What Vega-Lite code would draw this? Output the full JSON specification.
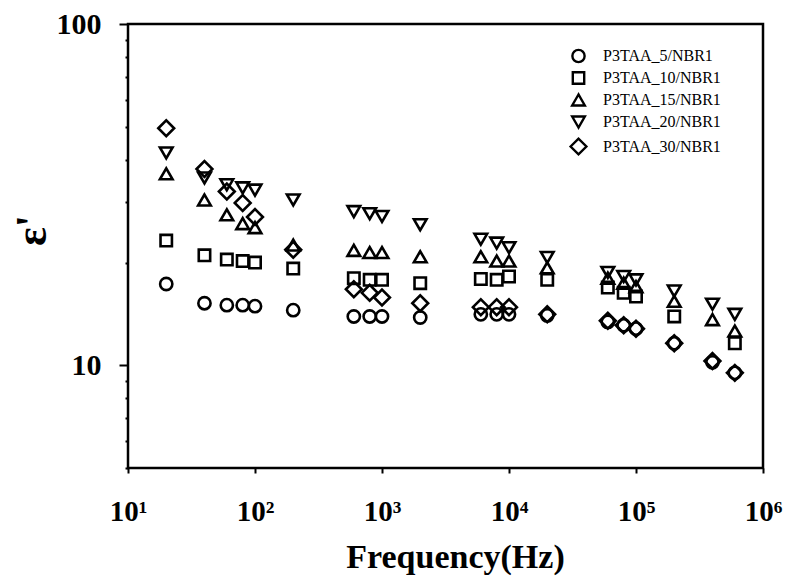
{
  "$schema": "https://vega.github.io/schema/vega-lite/v6.json",
  "width": 635,
  "height": 444,
  "autosize": {"type": "none"},
  "padding": {"left": 128, "top": 24, "right": 27, "bottom": 114},
  "background": "white",
  "config": {
    "view": {"stroke": "black", "strokeWidth": 2.5},
    "font": "Liberation Serif",
    "legend": {
      "labelFont": "Liberation Serif", "labelFontSize": 16, "labelColor": "black",
      "symbolStrokeColor": "black", "symbolFillColor": "transparent", "symbolStrokeWidth": 2.4,
      "rowPadding": 0, "labelOffset": 15
    }
  },
  "data": {
    "values": [
      {"f": 20, "e": 17.3, "s": "P3TAA_5/NBR1"},
      {"f": 40, "e": 15.2, "s": "P3TAA_5/NBR1"},
      {"f": 60, "e": 15.0, "s": "P3TAA_5/NBR1"},
      {"f": 80, "e": 15.0, "s": "P3TAA_5/NBR1"},
      {"f": 100, "e": 14.9, "s": "P3TAA_5/NBR1"},
      {"f": 200, "e": 14.5, "s": "P3TAA_5/NBR1"},
      {"f": 600, "e": 13.9, "s": "P3TAA_5/NBR1"},
      {"f": 800, "e": 13.9, "s": "P3TAA_5/NBR1"},
      {"f": 1000, "e": 13.9, "s": "P3TAA_5/NBR1"},
      {"f": 2000, "e": 13.8, "s": "P3TAA_5/NBR1"},
      {"f": 6000, "e": 14.1, "s": "P3TAA_5/NBR1"},
      {"f": 8000, "e": 14.1, "s": "P3TAA_5/NBR1"},
      {"f": 10000, "e": 14.1, "s": "P3TAA_5/NBR1"},
      {"f": 20000, "e": 14.0, "s": "P3TAA_5/NBR1"},
      {"f": 60000, "e": 13.4, "s": "P3TAA_5/NBR1"},
      {"f": 80000, "e": 13.1, "s": "P3TAA_5/NBR1"},
      {"f": 100000, "e": 12.8, "s": "P3TAA_5/NBR1"},
      {"f": 200000, "e": 11.6, "s": "P3TAA_5/NBR1"},
      {"f": 400000, "e": 10.2, "s": "P3TAA_5/NBR1"},
      {"f": 600000, "e": 9.5, "s": "P3TAA_5/NBR1"},

      {"f": 20, "e": 23.2, "s": "P3TAA_10/NBR1"},
      {"f": 40, "e": 21.0, "s": "P3TAA_10/NBR1"},
      {"f": 60, "e": 20.4, "s": "P3TAA_10/NBR1"},
      {"f": 80, "e": 20.2, "s": "P3TAA_10/NBR1"},
      {"f": 100, "e": 20.0, "s": "P3TAA_10/NBR1"},
      {"f": 200, "e": 19.2, "s": "P3TAA_10/NBR1"},
      {"f": 600, "e": 18.0, "s": "P3TAA_10/NBR1"},
      {"f": 800, "e": 17.8, "s": "P3TAA_10/NBR1"},
      {"f": 1000, "e": 17.8, "s": "P3TAA_10/NBR1"},
      {"f": 2000, "e": 17.4, "s": "P3TAA_10/NBR1"},
      {"f": 6000, "e": 17.9, "s": "P3TAA_10/NBR1"},
      {"f": 8000, "e": 17.8, "s": "P3TAA_10/NBR1"},
      {"f": 10000, "e": 18.2, "s": "P3TAA_10/NBR1"},
      {"f": 20000, "e": 17.8, "s": "P3TAA_10/NBR1"},
      {"f": 60000, "e": 16.9, "s": "P3TAA_10/NBR1"},
      {"f": 80000, "e": 16.3, "s": "P3TAA_10/NBR1"},
      {"f": 100000, "e": 15.9, "s": "P3TAA_10/NBR1"},
      {"f": 200000, "e": 13.9, "s": "P3TAA_10/NBR1"},
      {"f": 600000, "e": 11.6, "s": "P3TAA_10/NBR1"},

      {"f": 20, "e": 36.4, "s": "P3TAA_15/NBR1"},
      {"f": 40, "e": 30.5, "s": "P3TAA_15/NBR1"},
      {"f": 60, "e": 27.6, "s": "P3TAA_15/NBR1"},
      {"f": 80, "e": 26.0, "s": "P3TAA_15/NBR1"},
      {"f": 100, "e": 25.3, "s": "P3TAA_15/NBR1"},
      {"f": 200, "e": 22.5, "s": "P3TAA_15/NBR1"},
      {"f": 600, "e": 21.7, "s": "P3TAA_15/NBR1"},
      {"f": 800, "e": 21.4, "s": "P3TAA_15/NBR1"},
      {"f": 1000, "e": 21.4, "s": "P3TAA_15/NBR1"},
      {"f": 2000, "e": 20.8, "s": "P3TAA_15/NBR1"},
      {"f": 6000, "e": 20.8, "s": "P3TAA_15/NBR1"},
      {"f": 8000, "e": 20.2, "s": "P3TAA_15/NBR1"},
      {"f": 10000, "e": 20.2, "s": "P3TAA_15/NBR1"},
      {"f": 20000, "e": 19.3, "s": "P3TAA_15/NBR1"},
      {"f": 60000, "e": 18.0, "s": "P3TAA_15/NBR1"},
      {"f": 80000, "e": 17.4, "s": "P3TAA_15/NBR1"},
      {"f": 100000, "e": 17.0, "s": "P3TAA_15/NBR1"},
      {"f": 200000, "e": 15.4, "s": "P3TAA_15/NBR1"},
      {"f": 400000, "e": 13.6, "s": "P3TAA_15/NBR1"},
      {"f": 600000, "e": 12.6, "s": "P3TAA_15/NBR1"},

      {"f": 20, "e": 41.9, "s": "P3TAA_20/NBR1"},
      {"f": 40, "e": 35.4, "s": "P3TAA_20/NBR1"},
      {"f": 60, "e": 33.8, "s": "P3TAA_20/NBR1"},
      {"f": 80, "e": 33.1, "s": "P3TAA_20/NBR1"},
      {"f": 100, "e": 32.6, "s": "P3TAA_20/NBR1"},
      {"f": 200, "e": 30.5, "s": "P3TAA_20/NBR1"},
      {"f": 600, "e": 28.2, "s": "P3TAA_20/NBR1"},
      {"f": 800, "e": 27.8, "s": "P3TAA_20/NBR1"},
      {"f": 1000, "e": 27.3, "s": "P3TAA_20/NBR1"},
      {"f": 2000, "e": 25.8, "s": "P3TAA_20/NBR1"},
      {"f": 6000, "e": 23.4, "s": "P3TAA_20/NBR1"},
      {"f": 8000, "e": 22.8, "s": "P3TAA_20/NBR1"},
      {"f": 10000, "e": 22.1, "s": "P3TAA_20/NBR1"},
      {"f": 20000, "e": 20.7, "s": "P3TAA_20/NBR1"},
      {"f": 60000, "e": 18.7, "s": "P3TAA_20/NBR1"},
      {"f": 80000, "e": 18.2, "s": "P3TAA_20/NBR1"},
      {"f": 100000, "e": 17.8, "s": "P3TAA_20/NBR1"},
      {"f": 200000, "e": 16.5, "s": "P3TAA_20/NBR1"},
      {"f": 400000, "e": 15.1, "s": "P3TAA_20/NBR1"},
      {"f": 600000, "e": 14.1, "s": "P3TAA_20/NBR1"},

      {"f": 20, "e": 49.5, "s": "P3TAA_30/NBR1"},
      {"f": 40, "e": 37.6, "s": "P3TAA_30/NBR1"},
      {"f": 60, "e": 32.3, "s": "P3TAA_30/NBR1"},
      {"f": 80, "e": 29.9, "s": "P3TAA_30/NBR1"},
      {"f": 100, "e": 27.2, "s": "P3TAA_30/NBR1"},
      {"f": 200, "e": 21.8, "s": "P3TAA_30/NBR1"},
      {"f": 600, "e": 16.7, "s": "P3TAA_30/NBR1"},
      {"f": 800, "e": 16.3, "s": "P3TAA_30/NBR1"},
      {"f": 1000, "e": 15.8, "s": "P3TAA_30/NBR1"},
      {"f": 2000, "e": 15.2, "s": "P3TAA_30/NBR1"},
      {"f": 6000, "e": 14.8, "s": "P3TAA_30/NBR1"},
      {"f": 8000, "e": 14.8, "s": "P3TAA_30/NBR1"},
      {"f": 10000, "e": 14.8, "s": "P3TAA_30/NBR1"},
      {"f": 20000, "e": 14.1, "s": "P3TAA_30/NBR1"},
      {"f": 60000, "e": 13.5, "s": "P3TAA_30/NBR1"},
      {"f": 80000, "e": 13.1, "s": "P3TAA_30/NBR1"},
      {"f": 100000, "e": 12.8, "s": "P3TAA_30/NBR1"},
      {"f": 200000, "e": 11.6, "s": "P3TAA_30/NBR1"},
      {"f": 400000, "e": 10.3, "s": "P3TAA_30/NBR1"},
      {"f": 600000, "e": 9.5, "s": "P3TAA_30/NBR1"}
    ]
  },
  "mark": {"type": "point", "filled": false, "color": "black", "strokeWidth": 2.6, "opacity": 1},
  "encoding": {
    "x": {
      "field": "f", "type": "quantitative",
      "scale": {"type": "log", "domain": [10, 1000000], "nice": false},
      "axis": {
        "values": [10, 100, 1000, 10000, 100000, 1000000],
        "labelExpr": "datum.value == 10 ? '10¹' : datum.value == 100 ? '10²' : datum.value == 1000 ? '10³' : datum.value == 10000 ? '10⁴' : datum.value == 100000 ? '10⁵' : '10⁶'",
        "domain": false, "grid": false,
        "ticks": true, "tickSize": 5, "tickWidth": 2, "tickColor": "black",
        "labelFont": "Liberation Serif", "labelFontWeight": "bold", "labelFontSize": 29, "labelColor": "black",
        "labelPadding": 24, "labelFlush": false, "labelOverlap": false,
        "title": "Frequency(Hz)",
        "titleFont": "Liberation Serif", "titleFontWeight": "bold", "titleFontSize": 34, "titleColor": "black",
        "titleX": 327, "titleY": 99, "titleAnchor": "middle", "titleAlign": "center", "titleBaseline": "alphabetic"
      }
    },
    "y": {
      "field": "e", "type": "quantitative",
      "scale": {"type": "log", "domain": [5, 100], "nice": false},
      "axis": {
        "values": [5, 6, 7, 8, 9, 10, 20, 30, 40, 50, 60, 70, 80, 90, 100],
        "labelExpr": "datum.value == 10 || datum.value == 100 ? datum.label : ''",
        "domain": false, "grid": false,
        "ticks": true,
        "tickSize": {"condition": {"test": "datum.value == 10 || datum.value == 100", "value": 9}, "value": 3},
        "tickWidth": 2, "tickColor": "black",
        "labelFont": "Liberation Serif", "labelFontWeight": "bold", "labelFontSize": 30, "labelColor": "black",
        "labelPadding": 18, "labelFlush": false, "labelOverlap": false,
        "title": "ε'",
        "titleFont": "Liberation Serif", "titleFontWeight": "bold", "titleFontSize": 44, "titleColor": "black",
        "titleAngle": -90, "titleX": -96, "titleY": 206, "titleAlign": "center", "titleBaseline": "middle"
      }
    },
    "size": {
      "field": "s", "type": "nominal",
      "scale": {
        "type": "ordinal",
        "domain": ["P3TAA_5/NBR1", "P3TAA_10/NBR1", "P3TAA_15/NBR1", "P3TAA_20/NBR1", "P3TAA_30/NBR1"],
        "range": [150, 130, 160, 160, 250]
      },
      "legend": {"orient": "none", "legendX": 441, "legendY": 24, "title": null}
    },
    "shape": {
      "field": "s", "type": "nominal",
      "scale": {
        "domain": ["P3TAA_5/NBR1", "P3TAA_10/NBR1", "P3TAA_15/NBR1", "P3TAA_20/NBR1", "P3TAA_30/NBR1"],
        "range": ["circle", "square", "triangle-up", "triangle-down", "diamond"]
      },
      "legend": {"orient": "none", "legendX": 441, "legendY": 24, "title": null}
    }
  }
}
